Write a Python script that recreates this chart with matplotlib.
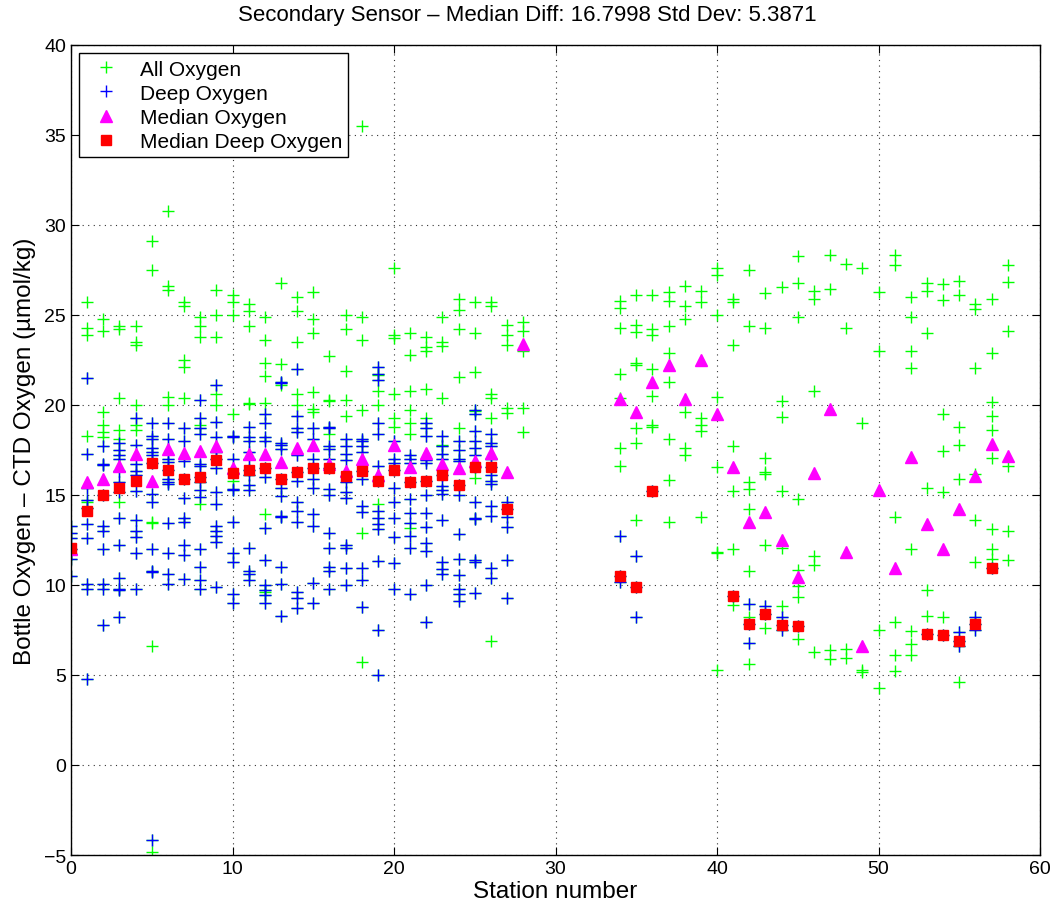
import numpy as np
import matplotlib
matplotlib.use("Agg")
from matplotlib import pyplot as plt

plt.rcParams['font.family'] = ['Liberation Sans', 'DejaVu Sans']

#--------------data-------------------------------------
# shallow (non-deep) bottle - ctd differences per station
shallow = {
    1: [25.7, 24.3, 23.9, 18.3, 14.6],
    2: [24.8, 24.1, 19.6, 18.9, 18.5, 18.2],
    3: [24.4, 24.2, 20.4, 18.6, 18.1, 14.6],
    4: [24.4, 23.5, 23.35, 20.0, 18.9, 18.6],
    5: [29.1, 27.5, 13.5, 13.45, 6.6, -4.85],
    6: [30.8, 26.6, 26.4, 20.45, 20.0],
    7: [25.7, 25.5, 22.5, 22.1, 20.4],
    8: [24.9, 24.4, 23.8, 18.9, 14.5],
    9: [26.4, 25.0, 23.8, 20.6, 20.0],
    10: [26.1, 25.7, 25.0, 19.5, 15.8],
    11: [25.6, 25.2, 24.4, 20.1, 20.05],
    12: [24.9, 23.6, 22.35, 21.6, 20.1, 13.95, 9.6],
    13: [26.8, 22.3, 21.1],
    14: [26.0, 25.2, 23.5, 20.6, 20.0],
    15: [26.3, 24.8, 24.0, 20.7, 19.8, 19.6],
    16: [22.7, 20.3, 20.2, 18.4],
    17: [25.0, 24.2, 21.9, 20.3, 19.4],
    18: [35.5, 24.9, 23.6, 19.7, 12.9, 5.7],
    19: [21.65, 20.8, 20.0, 14.5],
    20: [27.6, 23.9, 23.7, 20.6, 19.25, 18.8],
    21: [24.0, 22.8, 20.8, 19.7, 19.0, 18.4, 13.15],
    22: [23.8, 23.2, 23.0, 20.9, 19.25],
    23: [24.9, 23.5, 23.3, 20.4, 17.8],
    24: [25.9, 25.25, 24.2, 21.55, 18.7],
    25: [25.7, 24.0, 21.85, 19.65, 15.95],
    26: [25.7, 25.5, 20.6, 20.4, 19.25, 6.9],
    27: [24.45, 23.9, 23.35, 19.85, 19.55],
    28: [24.6, 24.1, 23.0, 19.85, 18.5],
    34: [25.8, 25.4, 24.3, 21.7, 20.4, 17.6, 16.6],
    35: [26.1, 24.45, 24.05, 22.35, 22.2, 18.7, 17.9, 13.6],
    36: [26.1, 24.2, 23.9, 22.0, 20.5, 18.9, 18.75],
    37: [26.3, 25.8, 24.4, 22.9, 21.3, 18.1, 15.85, 13.5],
    38: [26.6, 25.5, 24.75, 19.6, 17.6, 17.2],
    39: [26.35, 25.7, 19.3, 18.9, 18.55, 13.8],
    40: [27.6, 27.2, 25.0, 20.45, 16.55, 11.85, 11.75, 5.25],
    41: [25.9, 25.7, 23.35, 17.7, 15.2, 12.0, 8.9],
    42: [27.5, 24.4, 15.7, 15.35, 14.2, 10.8, 8.2, 5.6],
    43: [26.2, 24.3, 17.05, 16.25, 16.15, 12.2, 7.6],
    44: [26.55, 20.2, 19.35, 15.2, 12.05, 8.85],
    45: [28.3, 26.8, 24.9, 14.8, 10.85, 9.95, 9.35, 7.0],
    46: [26.35, 25.9, 20.8, 11.6, 11.1, 6.3],
    47: [28.35, 26.45, 6.4, 5.9],
    48: [27.85, 24.3, 6.45, 5.95],
    49: [27.6, 19.0, 5.25, 5.15],
    50: [26.3, 23.0, 7.5, 4.3],
    51: [28.35, 27.8, 13.75, 7.95, 6.1, 5.2],
    52: [26.0, 24.9, 23.0, 22.05, 12.0, 7.45, 6.7, 6.1],
    53: [26.8, 26.35, 24.0, 15.4, 9.7, 8.3],
    54: [26.7, 25.85, 19.5, 17.45, 15.15, 8.2],
    55: [26.9, 26.1, 18.8, 17.8, 15.9, 4.6],
    56: [25.6, 25.35, 22.05, 16.15, 13.6, 11.3],
    57: [25.9, 22.9, 20.15, 19.4, 18.6, 17.05, 13.1, 12.0, 11.45],
    58: [27.75, 26.85, 24.1, 16.6, 13.0, 11.4],
}

deep = {
    0: [13.25, 12.9, 12.6, 12.0, 11.7, 11.45, 10.5],
    1: [21.5, 17.3, 15.4, 14.7, 14.3, 13.4, 12.6, 10.07, 9.75, 4.8],
    2: [17.7, 16.7, 16.65, 15.0, 13.3, 13.0, 12.0, 10.07, 9.8, 7.8],
    3: [17.9, 17.5, 17.2, 17.0, 16.35, 15.7, 15.15, 13.7, 12.2, 10.4, 9.8, 9.7, 8.2],
    4: [19.25, 17.8, 16.7, 16.35, 16.1, 15.2, 13.6, 13.0, 12.65, 11.8, 9.8],
    5: [19.0, 18.3, 18.1, 17.6, 17.4, 17.2, 16.8, 15.05, 14.6, 12.0, 10.8, 10.7, -4.15],
    6: [19.0, 18.1, 17.0, 16.85, 16.4, 15.9, 15.7, 15.6, 13.45, 11.8, 10.6, 10.07],
    7: [18.7, 18.0, 16.9, 15.9, 14.85, 13.7, 13.5, 12.2, 11.65, 10.35],
    8: [20.3, 19.25, 18.7, 18.4, 16.7, 16.6, 16.0, 15.7, 15.25, 14.9, 12.0, 11.0, 10.25, 9.8],
    9: [21.1, 19.05, 18.2, 17.4, 17.0, 16.5, 15.15, 14.5, 13.3, 13.0, 12.7, 12.4, 9.9],
    10: [18.3, 18.2, 17.0, 16.2, 15.35, 15.25, 13.5, 11.8, 11.3, 9.5, 9.0],
    11: [18.8, 18.2, 18.0, 17.4, 17.0, 16.4, 16.1, 15.55, 15.25, 12.05, 10.8, 10.6, 10.25],
    12: [19.5, 19.0, 18.2, 18.0, 16.5, 16.0, 13.15, 11.4, 10.0, 9.7, 9.45, 9.0],
    13: [21.3, 21.2, 17.9, 17.8, 17.55, 15.9, 15.4, 14.95, 13.85, 13.75, 11.0, 10.07, 8.3],
    14: [22.0, 19.4, 18.7, 18.5, 17.2, 16.3, 15.8, 14.6, 14.1, 13.5, 9.6, 9.3, 8.7],
    15: [18.7, 18.1, 17.0, 16.5, 15.9, 15.4, 13.95, 13.25, 10.1, 9.0],
    16: [18.8, 18.7, 17.7, 17.55, 17.0, 16.5, 15.35, 15.0, 12.9, 12.05, 11.0, 10.8, 9.8],
    17: [18.1, 17.7, 17.3, 16.95, 16.05, 15.7, 15.15, 14.85, 12.2, 12.05, 10.95, 10.0],
    18: [18.1, 18.0, 17.7, 17.4, 16.35, 15.9, 14.4, 14.05, 10.95, 10.25, 8.8],
    19: [22.1, 21.7, 21.4, 19.0, 18.4, 16.6, 15.75, 14.1, 13.7, 13.4, 13.1, 11.35, 7.5, 5.0],
    20: [18.0, 17.0, 16.8, 16.4, 15.4, 14.6, 13.7, 12.65, 11.2, 9.8],
    21: [17.2, 17.0, 16.8, 15.7, 14.8, 14.0, 13.45, 12.7, 12.05, 9.5],
    22: [19.0, 18.7, 18.3, 16.95, 16.8, 15.75, 15.0, 14.0, 13.2, 12.35, 11.9, 10.0, 7.95],
    23: [18.3, 17.7, 17.3, 17.0, 16.1, 15.5, 15.25, 15.05, 13.6, 11.3, 10.9, 10.6],
    24: [18.0, 17.5, 17.0, 16.9, 15.55, 15.0, 12.85, 11.45, 10.55, 9.8, 9.5, 9.1],
    25: [19.7, 19.5, 18.55, 18.0, 17.6, 17.2, 16.55, 14.6, 13.7, 13.65, 11.4, 11.3, 9.55],
    26: [18.4, 17.9, 17.7, 17.0, 16.55, 16.1, 15.8, 15.6, 14.4, 13.85, 10.95, 10.4],
    27: [14.6, 14.2, 13.8, 13.2, 11.4, 9.3],
    34: [12.7, 10.5, 10.15],
    35: [11.6, 9.9, 8.2],
    36: [15.2],
    41: [9.4],
    42: [8.95, 7.85, 6.75],
    43: [8.85, 8.4],
    44: [8.2, 7.8, 7.5],
    45: [7.7],
    53: [7.25],
    54: [7.2],
    55: [7.4, 6.9, 6.6],
    56: [8.2, 7.85, 7.5],
    57: [10.95],
}

# station medians
med_stn = [0, 1, 2, 3, 4, 5, 6, 7, 8, 9, 10, 11, 12, 13, 14, 15, 16, 17, 18, 19,
           20, 21, 22, 23, 24, 25, 26, 27, 28, 34, 35, 36, 37, 38, 39, 40, 41, 42,
           43, 44, 45, 46, 47, 48, 49, 50, 51, 52, 53, 54, 55, 56, 57, 58]
med_oxy = [12.0, 15.7, 15.9, 16.6, 17.3, 15.8, 17.55, 17.35, 17.45, 17.7, 16.5, 17.3,
           17.3, 16.85, 17.6, 17.8, 16.7, 16.35, 17.0, 16.1, 17.8, 16.55, 17.35, 16.7,
           16.5, 16.9, 17.35, 16.25, 23.4, 20.35, 19.6, 21.3, 22.2, 20.35, 22.5, 19.5,
           16.55, 13.5, 14.05, 12.5, 10.45, 16.2, 19.75, 11.85, 6.6, 15.3, 10.95, 17.1,
           13.4, 12.0, 14.2, 16.05, 17.85, 17.15]
med_deep_stn = [0, 1, 2, 3, 4, 5, 6, 7, 8, 9, 10, 11, 12, 13, 14, 15, 16, 17, 18, 19,
                20, 21, 22, 23, 24, 25, 26, 27, 34, 35, 36, 41, 42, 43, 44, 45, 53,
                54, 55, 56, 57]
med_deep_oxy = [12.05, 14.1, 15.0, 15.4, 15.8, 16.8, 16.4, 15.9, 16.0, 16.95, 16.2,
                16.4, 16.5, 15.9, 16.3, 16.5, 16.5, 16.05, 16.35, 15.75, 16.4, 15.7,
                15.75, 16.1, 15.55, 16.55, 16.55, 14.2, 10.5, 9.9, 15.2, 9.4, 7.85,
                8.4, 7.8, 7.7, 7.25, 7.2, 6.9, 7.85, 10.95]

#--------------flatten-------------------
all_x, all_y = [], []
for d in (shallow, deep):
    for s, vals in d.items():
        all_x += [s] * len(vals)
        all_y += vals
deep_x, deep_y = [], []
for s, vals in deep.items():
    deep_x += [s] * len(vals)
    deep_y += vals

#--------------plot-------------------
fig = plt.figure(figsize=(10.55, 9.12), dpi=100)
ax = fig.add_axes([0.0673, 0.0614, 0.9185, 0.8882])

ax.plot(all_x, all_y, '+', color=(0, 1, 0), ms=8, mew=1.0, label='All Oxygen')
ax.plot(deep_x, deep_y, '+', color=(0, 0, 1), ms=8, mew=1.0, label='Deep Oxygen')
ax.plot(med_stn, med_oxy, '^', color=(1, 0, 1), ms=8, mec=(1, 0, 1), label='Median Oxygen')
ax.plot(med_deep_stn, med_deep_oxy, 's', color=(1, 0, 0), ms=6.5, mec=(1, 0, 0),
        label='Median Deep Oxygen')

ax.set_xlim(0, 60)
ax.set_ylim(-5, 40)
ax.set_xticks(np.arange(0, 61, 10))
ax.set_yticks(np.arange(-5, 41, 5))
ax.grid(True, linestyle=(0, (1, 4)), color='#333333', linewidth=0.8)
ax.tick_params(direction='in', top=True, right=True, labelsize=14, length=6)
for sp in ax.spines.values():
    sp.set_linewidth(1.0)

ax.set_xlabel('Station number', fontsize=17.5, labelpad=2)
ax.set_ylabel('Bottle Oxygen \u2013 CTD Oxygen (\u00b5mol/kg)', fontsize=17.5, labelpad=6)
# title sits centred on the figure, not on the axes
fig.text(0.5, 0.983, 'Secondary Sensor \u2013 Median Diff: 16.7998 Std Dev: 5.3871',
         fontsize=16, ha='center', va='center')

leg = ax.legend(loc='upper left', fontsize=15, frameon=True, fancybox=False,
                edgecolor='black', framealpha=1, borderaxespad=0.4,
                handletextpad=0.6, labelspacing=0.25, borderpad=0.3, numpoints=1)
leg.get_frame().set_linewidth(1.0)

fig.savefig('out.png', dpi=100)
